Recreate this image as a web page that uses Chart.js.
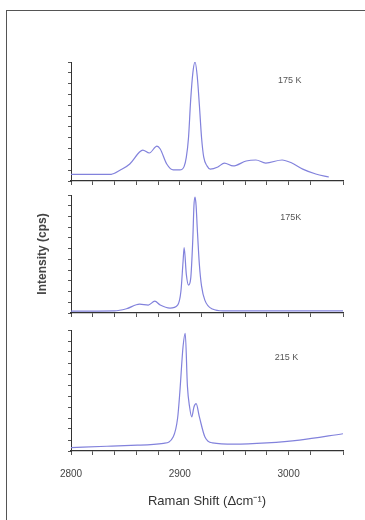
<!DOCTYPE html>
<html>
<head>
<meta charset="utf-8">
<script src="https://cdn.jsdelivr.net/npm/chart.js@4.4.0/dist/chart.umd.min.js"></script>
<style>
  body { margin: 0; background: #fff; overflow: hidden; width: 365px; height: 520px; position: relative; }
  #frame { position: absolute; left: 6px; top: 10px; width: 400px; height: 600px; border: 1px solid #555; }
  .panel { position: absolute; left: 0; }
</style>
</head>
<body>
<div id="frame"></div>
<div class="panel" style="top:52px"><canvas id="p1" width="365" height="136"></canvas></div>
<div class="panel" style="top:188px"><canvas id="p2" width="365" height="132"></canvas></div>
<div class="panel" style="top:320px"><canvas id="p3" width="365" height="200"></canvas></div>
<script>
"use strict";

// Raman shift (cm-1) and intensity
let shift1 = [2800, 2837, 2845, 2854, 2863, 2866, 2872, 2879, 2882, 2888, 2894, 2900, 2904, 2906, 2908, 2910, 2912, 2914, 2916, 2918, 2920, 2922, 2925, 2928, 2935, 2941, 2949, 2961, 2970, 2979, 2994, 3003, 3013, 3025, 3037];
let int1 = [6.2, 6.2, 9.9, 15.7, 26.8, 28.6, 25.9, 32.3, 29.6, 15.7, 10.2, 10.2, 13.5, 22, 40, 75, 100, 110, 97, 70, 40, 22, 14, 11, 13, 16.6, 13.9, 18.5, 19.4, 16.6, 19.4, 16.6, 11, 6.5, 3.7];

let shift2 = [2800, 2840, 2851, 2863, 2871, 2877, 2882, 2891, 2898, 2901, 2903, 2904, 2906, 2908, 2910, 2912, 2913, 2914, 2915, 2916, 2918, 2920, 2923, 2930, 2940, 3050];
let int2 = [1.8, 2, 4, 8.3, 7.4, 11, 7.4, 4.6, 7.4, 20, 48, 61, 36, 26, 32, 70, 100, 108, 100, 80, 45, 25, 12, 3.7, 2, 2];

let shift3 = [2800, 2833, 2861, 2885, 2894, 2898, 2900, 2903, 2905, 2907, 2909, 2911, 2913, 2915, 2918, 2923, 2930, 2950, 2980, 3010, 3050];
let int3 = [3, 4.3, 5.3, 7, 13, 30, 53, 95, 107, 59, 40, 31, 40, 43, 31, 13, 7.4, 6.2, 7.4, 9.9, 15.7];

let tempLabels = ["175 K", "175K", "215 K"];
let xLabels = [2800, 2900, 3000];

let lineColor = "#8282dc";
let axisColor = "#333";
let narrow = "'Liberation Sans Narrow', 'Liberation Sans', Arial, sans-serif";

let tempLabel = {
  id: "tempLabel",
  afterDraw(chart, args, opts) {
    let ctx = chart.ctx;
    let x = chart.scales.x.getPixelForValue(opts.x);
    let y = chart.scales.y.getPixelForValue(opts.y);
    ctx.save();
    ctx.fillStyle = "#555";
    ctx.font = "9px " + narrow;
    ctx.textAlign = "center";
    ctx.textBaseline = "middle";
    ctx.fillText(opts.text, x, y);
    ctx.restore();
  },
};

function makePanel(id, xs, ys, label, pos, opts) {
  let points = xs.map((v, i) => ({ x: v, y: ys[i] }));
  return new Chart(document.getElementById(id).getContext("2d"), {
    type: "line",
    data: {
      datasets: [
        {
          data: points,
          borderColor: lineColor,
          borderWidth: 1.2,
          pointRadius: 0,
          cubicInterpolationMode: "monotone",
          fill: false,
        },
      ],
    },
    options: {
      responsive: false,
      animation: false,
      devicePixelRatio: 1,
      layout: { padding: { top: opts.padTop, right: 22, left: 0, bottom: 0 } },
      plugins: {
        legend: { display: false },
        tooltip: { enabled: false },
        tempLabel: { text: label, x: pos[0], y: pos[1] },
      },
      scales: {
        x: {
          type: "linear",
          min: 2800,
          max: 3050,
          border: { display: true, color: axisColor, width: 1.3 },
          grid: { drawOnChartArea: false, drawTicks: true, tickLength: 4, color: "#555" },
          ticks: {
            display: opts.showX,
            stepSize: 20,
            padding: 13,
            autoSkip: false,
            maxRotation: 0,
            minRotation: 0,
            color: "#444",
            font: { family: narrow, size: 10 },
            callback: (v) => (xLabels.includes(v) ? String(v) : ""),
          },
          title: {
            display: opts.showX,
            text: "Raman Shift (Δcm⁻¹)",
            color: "#333",
            font: { family: narrow, size: 13 },
            padding: { top: 0, bottom: 11 },
          },
          afterFit: (s) => { s.height = opts.xHeight; },
        },
        y: {
          min: 0,
          max: 110,
          border: { display: true, color: axisColor, width: 1 },
          grid: { drawOnChartArea: false, drawTicks: true, tickLength: 3, color: "#555" },
          ticks: { display: false, stepSize: 10 },
          title: {
            display: opts.showY,
            text: "Intensity (cps)",
            color: "#444",
            font: { family: "'Liberation Sans', Arial, sans-serif", size: 12, weight: "bold" },
            padding: { top: 35, bottom: 0 },
          },
          afterFit: (s) => { s.width = 71; },
        },
      },
    },
    plugins: [tempLabel],
  });
}

let chart1 = makePanel("p1", shift1, int1, tempLabels[0], [3001, 93], { padTop: 10, xHeight: 7, showX: false, showY: false });
let chart2 = makePanel("p2", shift2, int2, tempLabels[1], [3002, 89], { padTop: 7, xHeight: 7, showX: false, showY: true });
let chart3 = makePanel("p3", shift3, int3, tempLabels[2], [2998, 85], { padTop: 10, xHeight: 69, showX: true, showY: false });
</script>
</body>
</html>
